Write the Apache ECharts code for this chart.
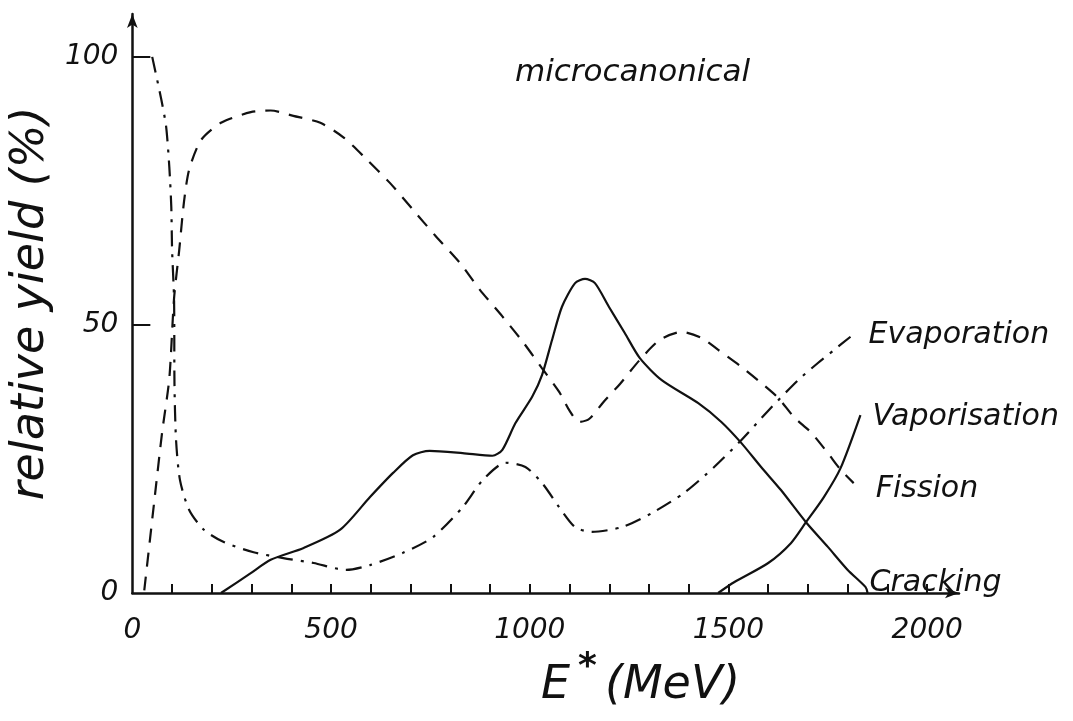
<!DOCTYPE html>
<html>
<head>
<meta charset="utf-8">
<script src="https://cdn.jsdelivr.net/npm/echarts@6/dist/echarts.min.js"></script>
<style>
html,body{margin:0;padding:0;background:#fff;}
#chart{width:1073px;height:721px;}
</style>
</head>
<body>
<div id="chart"></div>
<script>
// Excitation energy (MeV) / relative yield (%) pairs
const evaporationE = [50, 73, 85, 93, 98, 100, 105, 106, 110, 120, 143, 180, 230, 305, 380, 456, 538, 598, 681, 756, 831, 881, 939, 989, 1031, 1074, 1114, 1156, 1232, 1307, 1389, 1464, 1532, 1600, 1675, 1725, 1765, 1807];
const evaporationY = [100, 92, 87, 79.5, 72, 64, 54.7, 39, 28.5, 21, 15.5, 11.8, 9.5, 7.6, 6.5, 5.6, 4.3, 5.2, 7.5, 10.4, 16, 21, 24.3, 23.5, 20.5, 16, 12.3, 11.4, 12.3, 14.9, 18.7, 23.5, 28.5, 34, 39.7, 42.9, 45.3, 47.8];

const fissionE = [30, 55, 75, 93, 105, 118, 130, 143, 173, 223, 298, 348, 405, 473, 531, 588, 648, 706, 763, 824, 874, 931, 981, 1030, 1074, 1100, 1124, 1150, 1184, 1227, 1277, 1327, 1382, 1432, 1475, 1532, 1582, 1625, 1665, 1707, 1750, 1782, 1815];
const fissionY = [0.5, 17, 30, 40, 55, 64, 73, 79, 84.5, 87.7, 89.7, 90, 89, 87.7, 85, 81, 76.5, 71.5, 66.6, 61.6, 56.6, 51.6, 47, 42, 37.5, 34, 31.9, 32.5, 35.5, 39, 43.5, 47.2, 48.7, 47.6, 45.3, 42.2, 39.2, 36.4, 32.8, 30, 26.1, 23, 20.5];

const crackingE = [223, 298, 348, 431, 523, 598, 656, 706, 748, 831, 906, 931, 964, 1006, 1031, 1056, 1081, 1114, 1139, 1164, 1199, 1239, 1277, 1332, 1424, 1482, 1532, 1582, 1632, 1695, 1750, 1800, 1845, 1850];
const crackingY = [0, 3.7, 6.2, 8.4, 11.8, 17.9, 22.4, 25.7, 26.5, 26.1, 25.6, 26.7, 31.7, 36.6, 40.7, 47.2, 53.4, 57.8, 58.6, 57.8, 53.4, 48.5, 43.8, 39.7, 35.4, 31.9, 28, 23.5, 19.2, 13.2, 8.6, 4.3, 1.1, 0];

const vaporisationE = [1474, 1514, 1600, 1657, 1695, 1740, 1782, 1832];
const vaporisationY = [0, 2, 5.6, 9.3, 13.2, 17.9, 23.3, 33.2];

const xLabelValues = [0, 500, 1000, 1500, 2000];
const xTickValues = [100, 200, 300, 400, 500, 600, 700, 800, 900, 1000, 1100, 1200, 1300, 1400, 1500, 1600, 1700, 1800, 1900, 2000];
const yLabelValues = [0, 50, 100];
const yTickValues = [50, 100];

const seriesNames = ['Evaporation', 'Fission', 'Cracking', 'Vaporisation'];

function pairs(xs, ys) { return xs.map((x, i) => [x, ys[i]]); }

const FONT = 'DejaVu Sans';
const INK = '#111';

function lineSeries(name, xs, ys, dash, labelOffset) {
  return {
    name: name,
    type: 'line',
    data: pairs(xs, ys),
    smooth: 0.25,
    showSymbol: false,
    symbol: 'none',
    silent: true,
    lineStyle: { color: INK, width: 2.2, type: dash },
    endLabel: {
      show: true,
      formatter: name,
      color: INK,
      fontFamily: FONT,
      fontStyle: 'italic',
      fontSize: 30,
      offset: labelOffset
    }
  };
}

const chart = echarts.init(document.getElementById('chart'), null, { renderer: 'canvas' });
chart.setOption({
  backgroundColor: '#fff',
  animation: false,
  title: {
    text: 'microcanonical',
    left: 510,
    top: 52,
    textStyle: { fontFamily: FONT, fontStyle: 'italic', fontWeight: 'normal', fontSize: 31, color: INK }
  },
  grid: { left: 129, right: 114, top: 14, bottom: 128 },
  xAxis: {
    type: 'value',
    min: 0,
    max: 2080,
    name: '{e|E}{s|*}{e|(MeV)}',
    nameLocation: 'middle',
    nameGap: 45,
    nameTextStyle: {
      padding: [0, 0, 0, 190],
      rich: {
        e: { fontFamily: FONT, fontStyle: 'italic', fontSize: 46, color: INK, lineHeight: 72 },
        s: { fontFamily: FONT, fontSize: 36, color: INK, fontWeight: 'bold', verticalAlign: 'top', lineHeight: 30, padding: [0, 8, 0, 8] }
      }
    },
    splitLine: { show: false },
    axisLine: { show: true, onZero: false, symbol: ['none', 'arrow'], symbolSize: [8, 14], lineStyle: { color: INK, width: 2.5 } },
    axisTick: { show: true, inside: true, length: 9, customValues: xTickValues, lineStyle: { color: INK, width: 2 } },
    axisLabel: {
      customValues: xLabelValues,
      formatter: function (v) { return String(v); },
      margin: 24,
      color: INK,
      fontFamily: FONT,
      fontStyle: 'italic',
      fontSize: 28
    }
  },
  yAxis: {
    type: 'value',
    min: 0,
    max: 108,
    name: 'relative yield (%)',
    nameLocation: 'middle',
    nameGap: 56,
    nameTextStyle: { fontFamily: FONT, fontStyle: 'italic', fontSize: 46, color: INK },
    splitLine: { show: false },
    axisLine: { show: true, onZero: false, symbol: ['none', 'arrow'], symbolSize: [8, 14], lineStyle: { color: INK, width: 2.5 } },
    axisTick: { show: true, inside: true, length: 18, customValues: yTickValues, lineStyle: { color: INK, width: 2 } },
    axisLabel: {
      customValues: yLabelValues,
      formatter: function (v) { return String(v); },
      margin: 14,
      color: INK,
      fontFamily: FONT,
      fontStyle: 'italic',
      fontSize: 28
    }
  },
  series: [
    lineSeries(seriesNames[0], evaporationE, evaporationY, [16, 8, 3, 8], [10, -2]),
    lineSeries(seriesNames[1], fissionE, fissionY, [14, 10], [14, 6]),
    lineSeries(seriesNames[2], crackingE, crackingY, 'solid', [-6, -10]),
    lineSeries(seriesNames[3], vaporisationE, vaporisationY, 'solid', [4, 2])
  ]
});
</script>
</body>
</html>
